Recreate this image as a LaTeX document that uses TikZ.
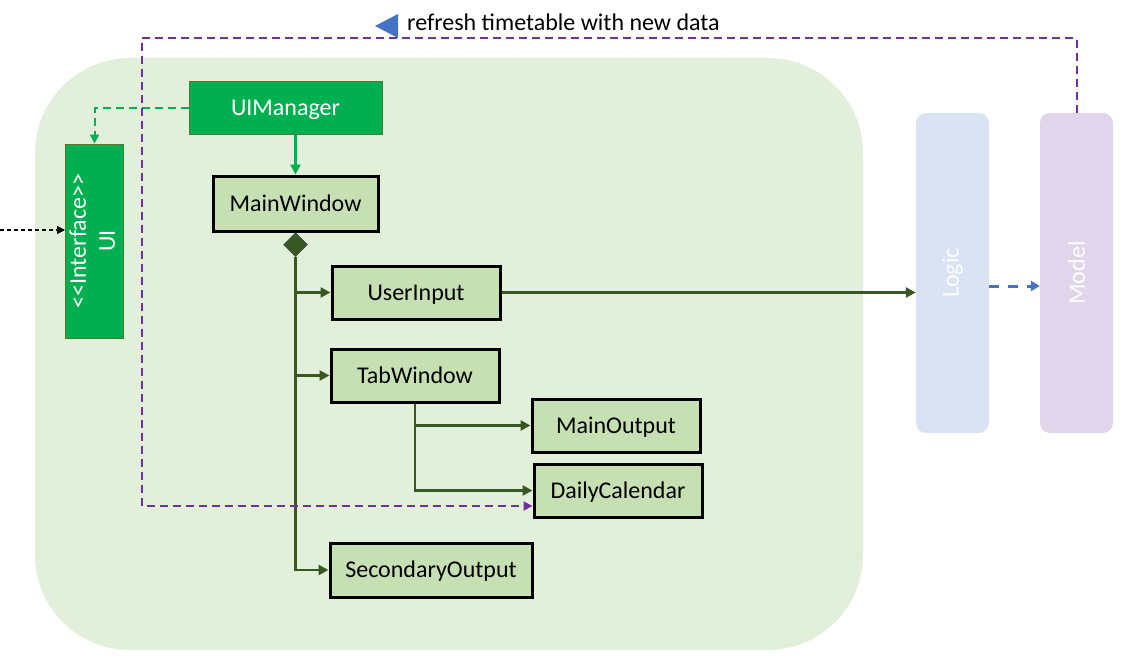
\documentclass[tikz,border=0pt]{standalone}
\usepackage{fontspec}
\newfontfamily\carl{Carlito}
\usepackage{graphicx}
\usetikzlibrary{arrows.meta,shapes.geometric,calc}
\definecolor{bgG}{HTML}{E2EFDA}
\definecolor{uiG}{HTML}{00B050}
\definecolor{uiB}{HTML}{4E7A2E}
\definecolor{boxG}{HTML}{C6E0B4}
\definecolor{darkG}{HTML}{385723}
\definecolor{logicB}{HTML}{DAE3F3}
\definecolor{modelP}{HTML}{E1D5EB}
\definecolor{purp}{HTML}{7030A0}
\definecolor{blu}{HTML}{4472C4}
\tikzset{
  uibox/.style={draw=uiB, line width=1pt, fill=uiG, text=white, inner sep=0pt},
  cbox/.style={draw=black, line width=3pt, fill=boxG, inner sep=0pt, minimum width=168pt, minimum height=53pt, text height=15pt, text depth=0pt},
  layerbox/.style={rounded corners=10pt, text=white, inner sep=0pt, minimum width=73pt, minimum height=320pt},
  darr/.style={draw=darkG, line width=2.8pt, -{Triangle[length=10pt,width=10pt]}},
  garr/.style={draw=uiG, line width=2.5pt, -{Triangle[length=10pt,width=10pt]}},
  gdash/.style={draw=uiG, line width=2pt, dash pattern=on 8pt off 5pt, -{Triangle[length=9pt,width=9pt]}},
  pdash/.style={draw=purp, line width=2pt, dash pattern=on 8pt off 5pt, -{Triangle[length=9pt,width=9pt]}},
  bdash/.style={draw=blu, line width=3pt, dash pattern=on 10pt off 9pt, -{Triangle[length=9pt,width=10pt]}},
  dotarr/.style={draw=black, line width=1.2pt, dash pattern=on 4pt off 3pt, -{Triangle[length=8pt,width=8pt]}},
}
\begin{document}
\begin{tikzpicture}[x=1pt,y=-1pt,font=\carl\fontsize{24}{29}\selectfont]
\useasboundingbox (0,0) rectangle (1134,661);
\fill[bgG, rounded corners=95pt] (35,58) rectangle (863,650);

\node[uibox, minimum width=193pt, minimum height=53pt, text height=15pt, text depth=0pt] (uim) at (285.5,107.5) {UIManager};
\node[uibox, minimum width=53pt, minimum height=194pt] (ui) at (94.5,241)
  {\rotatebox{90}{\begin{tabular}{@{}c@{}}<<Interface>>\\UI\end{tabular}}};

\node[cbox, minimum width=165pt, minimum height=55pt] (mw) at (295.5,203.5) {MainWindow};
\node[diamond, fill=darkG, draw=darkG!80!blue, inner sep=0pt, minimum size=24pt, anchor=north] (dia) at (mw.south) {};
\node[cbox] (uin) at (416,292.5) {UserInput};
\node[cbox] (tw) at (415,375.5) {TabWindow};
\node[cbox] (mo) at (616,425.5) {MainOutput};
\node[cbox] (dc) at (618,490.5) {DailyCalendar};
\node[cbox, minimum width=202pt, minimum height=54pt] (so) at (431,570) {SecondaryOutput};

\node[layerbox, fill=logicB] (logic) at (952.5,273) {\rotatebox{90}{Logic}};
\node[layerbox, fill=modelP] (model) at (1076.5,273) {\rotatebox{90}{Model}};

\coordinate (lft) at (0,230);
\coordinate (lm) at (0,286);
\coordinate (ptop) at (142,38);
\coordinate (pbot) at (0,506);

% connectors
\draw[gdash] (uim.west) -| (ui.north);
\draw[dotarr] (lft) -- (lft -| ui.west);
\draw[garr] (uim.south -| mw.north) -- (mw.north);
\draw[darr] (dia.south) |- (so.west);
\draw[darr] (dia.south |- uin.west) -- (uin.west);
\draw[darr] (dia.south |- tw.west) -- (tw.west);
\draw[darr] (tw.south) |- (dc.west);
\draw[darr] (tw.south |- mo.west) -- (mo.west);
\draw[darr] (uin.east) -- (uin.east -| logic.west);
\draw[bdash] (logic.east |- lm) -- (model.west |- lm);
\draw[pdash] (model.north) |- (ptop) -- (ptop |- pbot) -- (pbot -| dc.west);

\fill[blu] (375,26) -- (398,14) -- (398,38) -- cycle;
\node[anchor=west, inner sep=0pt] (lbl) at (407,22) {refresh timetable with new data};
\end{tikzpicture}
\end{document}
